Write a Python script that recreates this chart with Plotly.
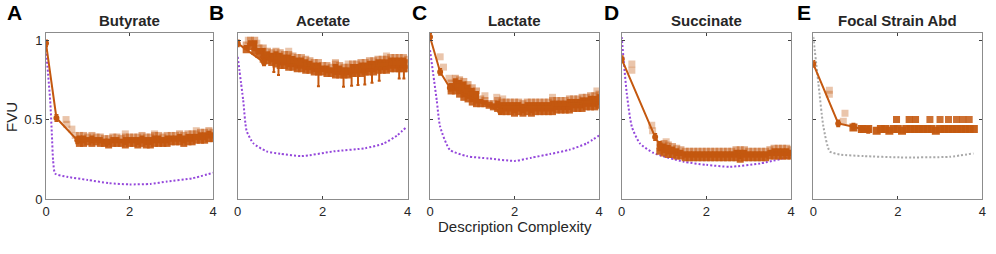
import plotly.graph_objects as go

# ---------------- data ----------------
panel_letters = ["A", "B", "C", "D", "E"]
panel_titles = ["Butyrate", "Acetate", "Lactate", "Succinate", "Focal Strain Abd"]
x_ticks = [0, 2, 4]
y_ticks = [0, 0.5, 1]
y_tick_labels = ["0", "0.5", "1"]

# A: Butyrate
A_band_x = [0.8, 0.9, 1.0, 1.1, 1.2, 1.3, 1.4, 1.5, 1.6, 1.7, 1.8, 1.9, 2.0, 2.1, 2.2, 2.3, 2.4,
            2.5, 2.6, 2.7, 2.8, 2.9, 3.0, 3.1, 3.2, 3.3, 3.4, 3.5, 3.6, 3.7, 3.8, 3.9, 4.0]
A_band_lo = [0.35, 0.35, 0.36, 0.35, 0.36, 0.35, 0.35, 0.34, 0.35, 0.35, 0.35, 0.34, 0.35, 0.35, 0.34,
             0.35, 0.34, 0.34, 0.35, 0.35, 0.35, 0.35, 0.36, 0.36, 0.36, 0.35, 0.36, 0.36, 0.37, 0.37,
             0.37, 0.38, 0.38]
A_band_hi = [0.40, 0.40, 0.39, 0.40, 0.39, 0.39, 0.38, 0.38, 0.39, 0.39, 0.38, 0.39, 0.39, 0.39, 0.39,
             0.40, 0.39, 0.39, 0.40, 0.40, 0.39, 0.40, 0.40, 0.40, 0.41, 0.40, 0.41, 0.41, 0.41, 0.42,
             0.42, 0.43, 0.42]
A_light_x = [0.48, 0.50, 0.62, 0.70, 1.90, 2.60, 3.60]
A_light_y = [0.50, 0.47, 0.44, 0.40, 0.41, 0.41, 0.43]
A_line_x = [0.0, 0.25, 0.75, 1.45]
A_line_y = [0.98, 0.51, 0.37, 0.355]
A_ref_x = [0.0, 0.10, 0.14, 0.17, 0.22, 0.50, 1.0, 1.5, 2.0, 2.5, 2.9, 3.5, 4.0]
A_ref_y = [0.94, 0.62, 0.41, 0.245, 0.16, 0.14, 0.12, 0.10, 0.092, 0.095, 0.11, 0.13, 0.165]

# B: Acetate
B_band_x = [0.2, 0.3, 0.4, 0.5, 0.6, 0.7, 0.8, 0.9, 1.0, 1.1, 1.2, 1.3, 1.4, 1.5, 1.6, 1.7, 1.8, 1.9,
            2.0, 2.1, 2.2, 2.3, 2.4, 2.5, 2.6, 2.7, 2.8, 2.9, 3.0, 3.1, 3.2, 3.3, 3.4, 3.5, 3.6, 3.7,
            3.8, 3.9, 4.0]
B_band_lo = [0.94, 0.96, 0.93, 0.91, 0.88, 0.87, 0.86, 0.85, 0.84, 0.84, 0.83, 0.83, 0.82, 0.82, 0.81,
             0.81, 0.80, 0.80, 0.80, 0.79, 0.79, 0.78, 0.78, 0.78, 0.78, 0.79, 0.79, 0.79, 0.80, 0.80,
             0.80, 0.81, 0.81, 0.81, 0.82, 0.82, 0.82, 0.82, 0.82]
B_band_hi = [0.97, 1.00, 1.00, 0.95, 0.95, 0.93, 0.92, 0.93, 0.92, 0.91, 0.91, 0.90, 0.89, 0.89, 0.88,
             0.87, 0.86, 0.86, 0.84, 0.84, 0.83, 0.85, 0.84, 0.83, 0.83, 0.85, 0.85, 0.86, 0.86, 0.87,
             0.87, 0.88, 0.88, 0.88, 0.89, 0.89, 0.89, 0.89, 0.88]
B_light_x = [0.25, 0.45, 1.2, 2.3, 2.6, 3.5]
B_light_y = [1.00, 0.98, 0.93, 0.86, 0.85, 0.90]
B_line_x = [0.0, 0.62]
B_line_y = [0.98, 0.86]
B_whisk_x = [0.63, 0.85, 0.96, 1.90, 2.49, 2.68, 2.83, 2.99, 3.16, 3.33, 3.80, 3.91]
B_whisk_top = [0.86, 0.85, 0.84, 0.80, 0.78, 0.79, 0.79, 0.80, 0.80, 0.81, 0.82, 0.82]
B_whisk_bot = [0.85, 0.80, 0.78, 0.71, 0.706, 0.713, 0.717, 0.721, 0.732, 0.744, 0.759, 0.759]
B_ref_x = [0.0, 0.13, 0.21, 0.37, 0.68, 1.0, 1.5, 2.26, 3.0, 3.44, 3.75, 3.98]
B_ref_y = [0.895, 0.62, 0.43, 0.35, 0.30, 0.285, 0.27, 0.30, 0.32, 0.35, 0.40, 0.455]

# C: Lactate
C_band_x = [0.5, 0.6, 0.7, 0.8, 0.9, 1.0, 1.1, 1.2, 1.3, 1.4, 1.5, 1.6, 1.7, 1.8, 1.9, 2.0, 2.1, 2.2,
            2.3, 2.4, 2.5, 2.6, 2.7, 2.8, 2.9, 3.0, 3.1, 3.2, 3.3, 3.4, 3.5, 3.6, 3.7, 3.8, 3.9, 4.0]
C_band_lo = [0.68, 0.68, 0.66, 0.64, 0.63, 0.61, 0.60, 0.60, 0.60, 0.59, 0.58, 0.57, 0.55, 0.55, 0.55,
             0.54, 0.55, 0.54, 0.55, 0.54, 0.55, 0.55, 0.55, 0.55, 0.55, 0.56, 0.56, 0.56, 0.56, 0.57,
             0.57, 0.57, 0.58, 0.58, 0.58, 0.59]
C_band_hi = [0.73, 0.76, 0.75, 0.74, 0.72, 0.70, 0.68, 0.63, 0.62, 0.60, 0.60, 0.62, 0.61, 0.61, 0.61,
             0.61, 0.61, 0.60, 0.61, 0.61, 0.61, 0.61, 0.61, 0.61, 0.62, 0.62, 0.62, 0.62, 0.63, 0.63,
             0.63, 0.64, 0.64, 0.65, 0.65, 0.66]
C_light_x = [0.24, 0.32, 0.45, 1.30, 1.58, 1.72, 2.9, 3.95]
C_light_y = [0.895, 0.83, 0.76, 0.65, 0.64, 0.63, 0.64, 0.68]
C_line_x = [0.0, 0.24, 0.47, 1.66]
C_line_y = [1.02, 0.80, 0.70, 0.553]
C_ref_x = [0.0, 0.16, 0.24, 0.47, 0.87, 1.4, 2.01, 2.4, 2.84, 3.3, 3.71, 4.0]
C_ref_y = [0.937, 0.62, 0.455, 0.31, 0.27, 0.255, 0.24, 0.26, 0.283, 0.31, 0.35, 0.40]

# D: Succinate
D_band_x = [0.9, 1.0, 1.1, 1.2, 1.3, 1.4, 1.5, 1.6, 1.7, 1.8, 1.9, 2.0, 2.1, 2.2, 2.3, 2.4, 2.5, 2.6,
            2.7, 2.8, 2.9, 3.0, 3.1, 3.2, 3.3, 3.4, 3.5, 3.6, 3.7, 3.8, 3.9, 4.0]
D_band_lo = [0.30, 0.29, 0.28, 0.28, 0.27, 0.27, 0.26, 0.26, 0.26, 0.26, 0.26, 0.26, 0.26, 0.26, 0.26,
             0.26, 0.26, 0.26, 0.26, 0.25, 0.26, 0.26, 0.26, 0.26, 0.26, 0.26, 0.27, 0.27, 0.27, 0.27,
             0.27, 0.27]
D_band_hi = [0.34, 0.35, 0.34, 0.33, 0.32, 0.31, 0.30, 0.30, 0.30, 0.30, 0.30, 0.30, 0.30, 0.30, 0.30,
             0.30, 0.30, 0.30, 0.31, 0.31, 0.31, 0.30, 0.30, 0.30, 0.30, 0.30, 0.31, 0.32, 0.32, 0.32,
             0.32, 0.31]
D_light_x = [0.24, 0.24, 0.71, 0.73, 1.05]
D_light_y = [0.85, 0.81, 0.465, 0.43, 0.36]
D_line_x = [0.0, 0.79, 0.90]
D_line_y = [0.88, 0.39, 0.34]
D_ref_x = [0.0, 0.12, 0.24, 0.43, 0.75, 1.46, 2.0, 2.56, 3.27, 3.98]
D_ref_y = [1.02, 0.665, 0.455, 0.35, 0.29, 0.235, 0.215, 0.203, 0.224, 0.266]

# E: Focal Strain Abd
E_pts_x = [0.95, 1.15, 1.30, 1.50, 1.60, 1.70, 1.80, 1.90, 2.00, 2.10, 2.20, 2.30, 2.40, 2.50, 2.60,
           2.70, 2.80, 2.90, 3.00, 3.10, 3.20, 3.30, 3.40, 3.50, 3.60, 3.70, 3.80]
E_pts_y = [0.45, 0.44, 0.44, 0.43, 0.44, 0.44, 0.43, 0.44, 0.44, 0.43, 0.44, 0.44, 0.44, 0.44, 0.44,
           0.44, 0.44, 0.43, 0.44, 0.44, 0.44, 0.44, 0.44, 0.44, 0.44, 0.44, 0.44]
E_up_x = [1.97, 2.27, 2.42, 2.76, 3.00, 3.20, 3.39, 3.54, 3.69]
E_up_y = [0.50, 0.50, 0.50, 0.50, 0.50, 0.50, 0.50, 0.50, 0.50]
E_light_x = [0.38, 0.38, 0.75, 0.71, 1.97, 2.27, 2.42]
E_light_y = [0.685, 0.66, 0.54, 0.49, 0.50, 0.50, 0.50]
E_line_x = [0.0, 0.59, 0.95, 1.15, 1.30]
E_line_y = [0.85, 0.476, 0.455, 0.44, 0.435]
E_ref_x = [0.0, 0.12, 0.24, 0.39, 0.63, 1.2, 2.05, 3.23, 3.79]
E_ref_y = [1.02, 0.73, 0.455, 0.30, 0.28, 0.27, 0.262, 0.266, 0.287]

# ---------------- style ----------------
ORANGE = "#C4580F"
PURPLE = "#9447DB"
GREY = "#A8A8A8"
FONT = "Liberation Sans, Arial, sans-serif"

x_domains = [[46 / 996, 213 / 996], [237.7 / 996, 407.7 / 996], [430 / 996, 599 / 996],
             [621.7 / 996, 791 / 996], [813.3 / 996, 982.3 / 996]]
y_domain = [(254 - 199) / 254, (254 - 33) / 254]

panels = [
    dict(bx=A_band_x, blo=A_band_lo, bhi=A_band_hi, lx=A_light_x, ly=A_light_y,
         linex=A_line_x, liney=A_line_y, rx=A_ref_x, ry=A_ref_y, rc=PURPLE),
    dict(bx=B_band_x, blo=B_band_lo, bhi=B_band_hi, lx=B_light_x, ly=B_light_y,
         linex=B_line_x, liney=B_line_y, rx=B_ref_x, ry=B_ref_y, rc=PURPLE),
    dict(bx=C_band_x, blo=C_band_lo, bhi=C_band_hi, lx=C_light_x, ly=C_light_y,
         linex=C_line_x, liney=C_line_y, rx=C_ref_x, ry=C_ref_y, rc=PURPLE),
    dict(bx=D_band_x, blo=D_band_lo, bhi=D_band_hi, lx=D_light_x, ly=D_light_y,
         linex=D_line_x, liney=D_line_y, rx=D_ref_x, ry=D_ref_y, rc=PURPLE),
    dict(bx=None, lx=E_light_x, ly=E_light_y,
         linex=E_line_x, liney=E_line_y, rx=E_ref_x, ry=E_ref_y, rc=GREY),
]

fig = go.Figure()

for i, p in enumerate(panels):
    xa = "x" if i == 0 else f"x{i + 1}"
    ya = "y" if i == 0 else f"y{i + 1}"
    # reference dotted curve
    fig.add_trace(go.Scatter(x=p["rx"], y=p["ry"], mode="lines", xaxis=xa, yaxis=ya,
                             line=dict(color=p["rc"], width=2, dash="2px,2px", shape="spline",
                                       smoothing=0.6),
                             showlegend=False, hoverinfo="skip"))
    # light outlier squares
    fig.add_trace(go.Scatter(x=p["lx"], y=p["ly"], mode="markers", xaxis=xa, yaxis=ya,
                             marker=dict(symbol="square", size=7, color=ORANGE, opacity=0.35,
                                         line=dict(width=0)),
                             showlegend=False))
    if p["bx"] is not None:
        heights = [h - l for h, l in zip(p["bhi"], p["blo"])]
        fig.add_trace(go.Bar(x=p["bx"], y=heights, base=p["blo"], width=0.12, xaxis=xa, yaxis=ya,
                             marker=dict(color=ORANGE, line=dict(width=0)), opacity=1.0,
                             showlegend=False))
        fig.add_trace(go.Scatter(x=p["bx"], y=p["bhi"], mode="markers", xaxis=xa, yaxis=ya,
                                 marker=dict(symbol="square", size=7, color=ORANGE, opacity=0.5,
                                             line=dict(width=0)),
                                 showlegend=False))
        fig.add_trace(go.Scatter(x=p["bx"], y=p["blo"], mode="markers", xaxis=xa, yaxis=ya,
                                 marker=dict(symbol="square", size=7, color=ORANGE, opacity=0.9,
                                             line=dict(width=0)),
                                 showlegend=False))
    # main line with markers
    fig.add_trace(go.Scatter(x=p["linex"], y=p["liney"], mode="lines+markers", xaxis=xa, yaxis=ya,
                             line=dict(color=ORANGE, width=2),
                             marker=dict(symbol="circle", size=6, color=ORANGE),
                             error_y=dict(type="constant", value=0.02, color=ORANGE,
                                          thickness=1.5, width=2),
                             showlegend=False))

# Acetate whiskers
B_whisk_minus = [t - b for t, b in zip(B_whisk_top, B_whisk_bot)]
fig.add_trace(go.Scatter(x=B_whisk_x, y=B_whisk_top, mode="markers", xaxis="x2", yaxis="y2",
                         marker=dict(size=1, color=ORANGE),
                         error_y=dict(type="data", symmetric=False, array=[0] * len(B_whisk_x),
                                      arrayminus=B_whisk_minus, color=ORANGE, thickness=2, width=1.5),
                         showlegend=False))

# Focal strain squares
fig.add_trace(go.Scatter(x=E_up_x, y=E_up_y, mode="markers", xaxis="x5", yaxis="y5",
                         marker=dict(symbol="square", size=7, color=ORANGE, opacity=0.85,
                                     line=dict(width=0)), showlegend=False))
fig.add_trace(go.Scatter(x=E_pts_x, y=E_pts_y, mode="markers", xaxis="x5", yaxis="y5",
                         marker=dict(symbol="square", size=8, color=ORANGE, opacity=0.95,
                                     line=dict(width=0)), showlegend=False))

layout = dict(width=996, height=254, margin=dict(l=0, r=0, t=0, b=0, autoexpand=False),
              paper_bgcolor="white", plot_bgcolor="white", barmode="overlay",
              font=dict(family=FONT, size=13, color="#262626"), showlegend=False)

axis_common = dict(showline=True, mirror="ticks", linecolor="#8C8C8C", linewidth=1,
                   ticks="inside", ticklen=3, tickcolor="#404040", showgrid=False, zeroline=False,
                   automargin=False,
                   tickfont=dict(family=FONT, size=13, color="#262626"))

for i in range(5):
    xk = "xaxis" if i == 0 else f"xaxis{i + 1}"
    yk = "yaxis" if i == 0 else f"yaxis{i + 1}"
    xs = "x" if i == 0 else f"x{i + 1}"
    ys = "y" if i == 0 else f"y{i + 1}"
    layout[xk] = dict(axis_common, domain=x_domains[i], range=[0, 4], anchor=ys,
                      tickvals=x_ticks, ticktext=[str(t) for t in x_ticks])
    layout[yk] = dict(axis_common, domain=y_domain, range=[0, 1.045], anchor=xs,
                      tickvals=y_ticks, ticktext=y_tick_labels, showticklabels=(i == 0))

annotations = []
letter_x = [5, 207, 410, 602, 795]
for i in range(5):
    cx = (x_domains[i][0] + x_domains[i][1]) / 2
    annotations.append(dict(text=f"<b>{panel_titles[i]}</b>", x=cx, y=(254 - 21) / 254,
                            xref="paper", yref="paper", showarrow=False,
                            font=dict(family=FONT, size=15, color="#262626"),
                            xanchor="center", yanchor="middle"))
    annotations.append(dict(text=f"<b>{panel_letters[i]}</b>", x=letter_x[i] / 996,
                            y=(254 - 12) / 254, xref="paper", yref="paper", showarrow=False,
                            font=dict(family=FONT, size=21, color="black"),
                            xanchor="left", yanchor="middle"))
# axis titles as paper annotations
annotations.append(dict(text="Description Complexity", x=514.5 / 996, y=(254 - 226) / 254,
                        xref="paper", yref="paper", showarrow=False,
                        font=dict(family=FONT, size=15, color="#262626"),
                        xanchor="center", yanchor="middle"))
annotations.append(dict(text="FVU", x=12 / 996, y=(254 - 117) / 254, textangle=-90,
                        xref="paper", yref="paper", showarrow=False,
                        font=dict(family=FONT, size=15, color="#262626"),
                        xanchor="center", yanchor="middle"))
layout["annotations"] = annotations

fig.update_layout(**layout)
fig.write_html("out.html", config={"displayModeBar": False},
               post_script="document.body.style.margin='0';"
                           "document.documentElement.style.overflow='hidden';")
